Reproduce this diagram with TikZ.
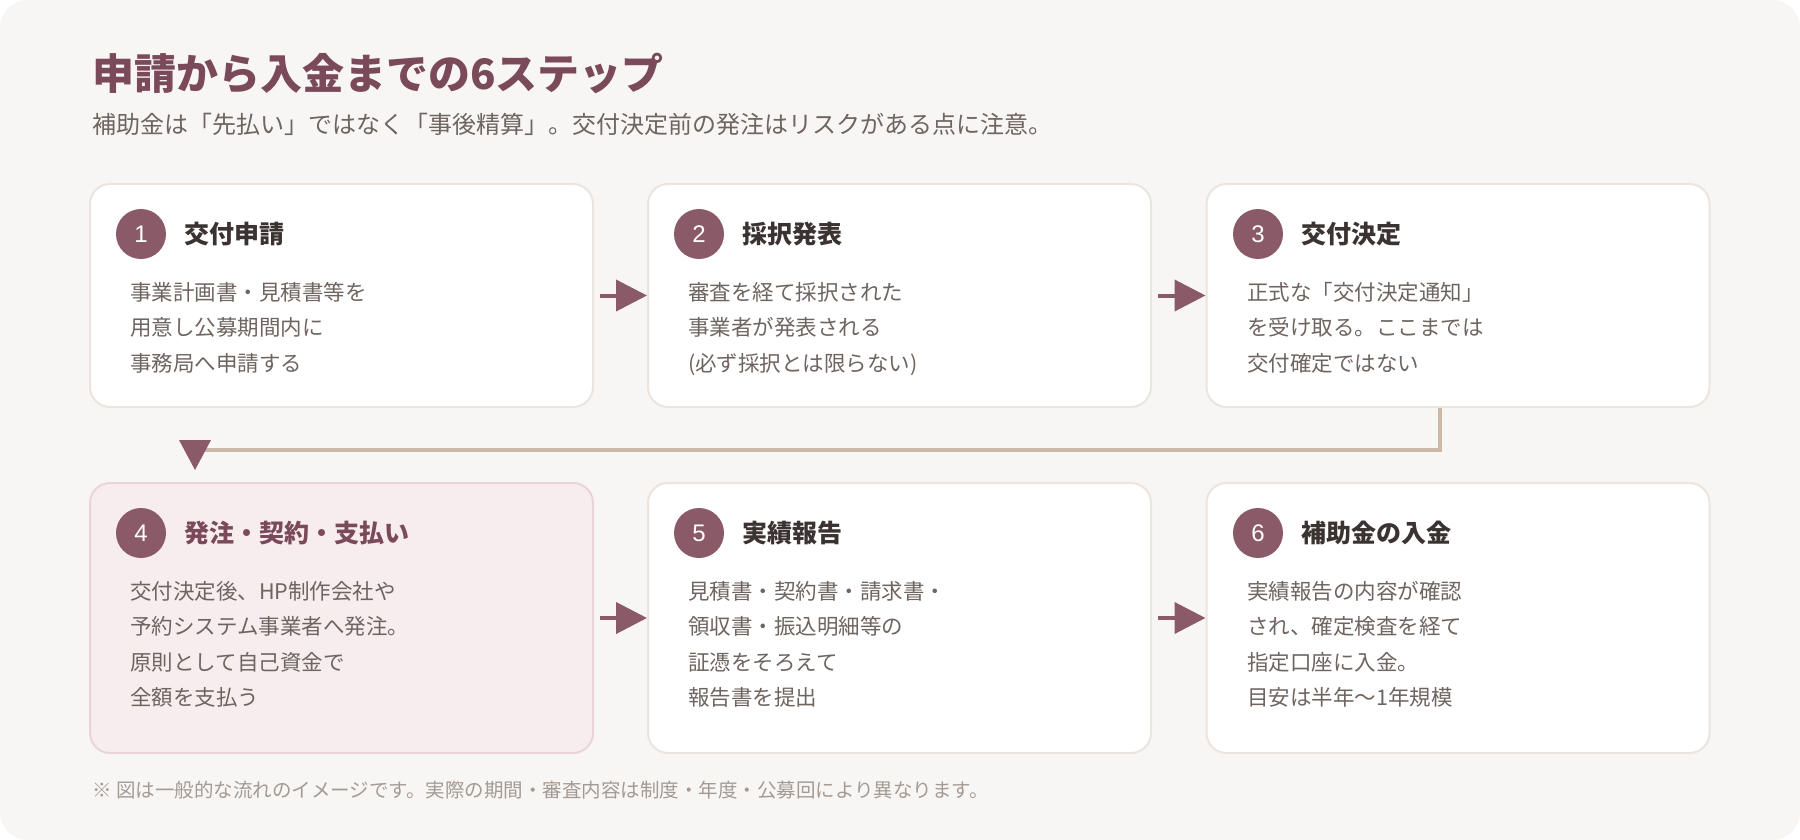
\documentclass[tikz,border=0pt]{standalone}
\usepackage{fontspec}
\setmainfont{Noto Sans CJK JP}
\newfontfamily\digitfont{Liberation Sans}
\usetikzlibrary{arrows.meta}
\definecolor{bgc}{HTML}{F8F6F4}
\definecolor{maroon}{HTML}{8B5A68}
\definecolor{titlec}{HTML}{7B4A5A}
\definecolor{cardb}{HTML}{ECE4DE}
\definecolor{pinkf}{HTML}{F7EDEE}
\definecolor{pinkb}{HTML}{E9D5D9}
\definecolor{connc}{HTML}{CDB8A6}
\definecolor{headc}{HTML}{3B3331}
\definecolor{bodyc}{HTML}{6E6460}
\definecolor{footc}{HTML}{A39A94}
\tikzset{
 card/.style={draw=cardb, fill=white, line width=2pt, rounded corners=20pt, minimum width=503pt, inner sep=0pt},
 rowone/.style={minimum height=223pt},
 rowtwo/.style={minimum height=270pt},
 hl/.style={draw=pinkb, fill=pinkf},
 badge/.style={circle, fill=maroon, minimum size=50pt, inner sep=0pt, text=white, font=\digitfont\fontsize{24}{24}\selectfont},
 head/.style={anchor=base west, inner sep=0pt, text=headc, font=\fontsize{25}{25}\selectfont\bfseries},
 bodytxt/.style={anchor=base west, inner sep=0pt, text=bodyc, font=\fontsize{21.5}{21.5}\selectfont},
 arr/.style={draw=maroon, line width=4pt, -{Triangle[length=31pt,width=31pt]}},
 conn/.style={draw=connc, line width=4pt},
}
\newcommand\cardlines[4]{%
  \foreach \t [count=\k from 0] in {#4} {
    \node[bodytxt] (#1-\k) at ({#2},{#3+35.5*\k}) {\t};
  }%
}
\begin{document}
\begin{tikzpicture}[x=1pt,y=-1pt]
\useasboundingbox (0,0) rectangle (1800,840);
\fill[white] (0,0) rectangle (1800,840);
\fill[bgc, rounded corners=28pt] (0,0) rectangle (1800,840);

% title
\node[anchor=base west, inner sep=0pt, text=titlec, font=\fontsize{42}{42}\selectfont\bfseries] (title) at (92,90) {申請から入金までの6ステップ};
\node[anchor=base west, inner sep=0pt, text=bodyc, font=\fontsize{24}{24}\selectfont] (sub) at (92,134) {補助金は「先払い」ではなく「事後精算」。交付決定前の発注はリスクがある点に注意。};

% cards
\node[card, rowone] (c1) at (341.5,295.5) {};
\node[card, rowone] (c2) at (899.5,295.5) {};
\node[card, rowone] (c3) at (1458,295.5) {};
\node[card, rowtwo, hl] (c4) at (341.5,618) {};
\node[card, rowtwo] (c5) at (899.5,618) {};
\node[card, rowtwo] (c6) at (1458,618) {};

% badges
\node[badge] (n1) at (141,234) {1};
\node[badge] (n2) at (699,234) {2};
\node[badge] (n3) at (1258,234) {3};
\node[badge] (n4) at (141,533) {4};
\node[badge] (n5) at (699,533) {5};
\node[badge] (n6) at (1258,533) {6};

% headings
\node[head] (h1) at (184,243.5) {交付申請};
\node[head] (h2) at (742,243.5) {採択発表};
\node[head] (h3) at (1301,243.5) {交付決定};
\node[head, text=titlec] (h4) at (184,542.5) {発注・契約・支払い};
\node[head] (h5) at (742,542.5) {実績報告};
\node[head] (h6) at (1301,542.5) {補助金の入金};

% body text
\cardlines{b1}{130}{300}{{事業計画書・見積書等を},{用意し公募期間内に},{事務局へ申請する}}
\cardlines{b2}{688}{300}{{審査を経て採択された},{事業者が発表される},{(必ず採択とは限らない)}}
\cardlines{b3}{1247}{300}{{正式な「交付決定通知」},{を受け取る。ここまでは},{交付確定ではない}}
\cardlines{b4}{130}{599}{{交付決定後、HP制作会社や},{予約システム事業者へ発注。},{原則として自己資金で},{全額を支払う}}
\cardlines{b5}{688}{599}{{見積書・契約書・請求書・},{領収書・振込明細等の},{証憑をそろえて},{報告書を提出}}
\cardlines{b6}{1247}{599}{{実績報告の内容が確認},{され、確定検査を経て},{指定口座に入金。},{目安は半年〜1年規模}}

% arrows
\draw[arr] ([xshift=6pt]c1.east) -- (c2.west);
\draw[arr] ([xshift=6pt]c2.east) -- (c3.west);
\draw[arr] ([xshift=6pt]c4.east) -- (c5.west);
\draw[arr] ([xshift=6pt]c5.east) -- (c6.west);

% return connector
\coordinate (turn) at (1440,450);
\coordinate (drop) at (195,450);
\draw[conn] (c3.south -| turn) -- (turn) -- (drop);
\fill[maroon] (179,440) -- (211,440) -- (195,470) -- cycle;

% footer
\node[anchor=base west, inner sep=0pt, text=footc, font=\fontsize{19.5}{19.5}\selectfont] (foot) at (92,797) {※ 図は一般的な流れのイメージです。実際の期間・審査内容は制度・年度・公募回により異なります。};
\end{tikzpicture}
\end{document}
